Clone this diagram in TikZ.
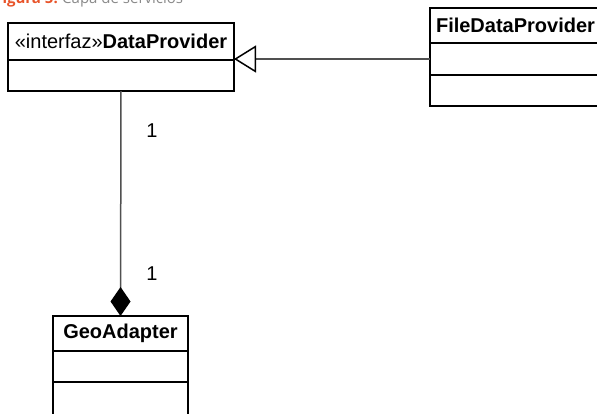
\documentclass[tikz,border=0pt]{standalone}
\usepackage{fontspec}
\setmainfont{Liberation Sans}
\newfontfamily\capfont{Open Sans}
\usetikzlibrary{arrows.meta}
\definecolor{caporange}{HTML}{E8542A}
\definecolor{capgray}{HTML}{8A8A8A}
\definecolor{connector}{HTML}{505050}
\begin{document}
\begin{tikzpicture}[x=1pt,y=-1pt,
  comp/.style={draw=black, line width=1.7pt, fill=white, minimum width=#1,
    inner sep=0pt, outer sep=0pt, anchor=north west,
    font=\fontsize{20}{22}\selectfont},
  umltext/.style={font=\fontsize{20}{22}\selectfont, inner sep=0pt},
  captext/.style={font=\capfont\fontsize{15}{17}\selectfont, inner sep=0pt},
  conn/.style={draw=connector, line width=1.5pt}]
\useasboundingbox (0,0) rectangle (597,413);
\clip (0,0) rectangle (597,413);
\fill[white] (0,0) rectangle (597,413);
% caption (cropped)
\node[captext, anchor=base east, text=caporange, font=\capfont\bfseries\fontsize{15}{17}\selectfont] (capnum) at (58,3.5) {Figura 5:};
\node[captext, anchor=base west, text=capgray] (captxt) at (62,3.5) {Capa de servicios};
% DataProvider
\node[comp=226pt, minimum height=37pt] (dpH) at (8,23) {\guillemotleft interfaz\guillemotright\textbf{DataProvider}};
\node[comp=226pt, minimum height=31pt] (dpB) at (8,60) {};
% FileDataProvider
\node[comp=171pt, minimum height=35pt] (fdpH) at (430,8) {\textbf{FileDataProvider}};
\node[comp=171pt, minimum height=32pt] (fdpB) at (430,43) {};
\node[comp=171pt, minimum height=31pt] (fdpC) at (430,75) {};
% GeoAdapter
\node[comp=135pt, minimum height=35pt] (geoH) at (53,316) {\textbf{GeoAdapter}};
\node[comp=135pt, minimum height=31pt] (geoB) at (53,351) {};
\node[comp=135pt, minimum height=40pt] (geoC) at (53,382) {};
% generalization
\draw[conn, -{Triangle[open, length=22pt, width=27pt, black]}] (fdpB.west) -- (fdpB.west -| dpH.east);
% composition
\draw[conn, -{Diamond[length=29pt, width=20pt, black]}] (dpB.south) -- (geoH.north);
% multiplicities
\node[umltext] (m1) at (152,131) {1};
\node[umltext] (m2) at (152,274) {1};
\end{tikzpicture}
\end{document}
